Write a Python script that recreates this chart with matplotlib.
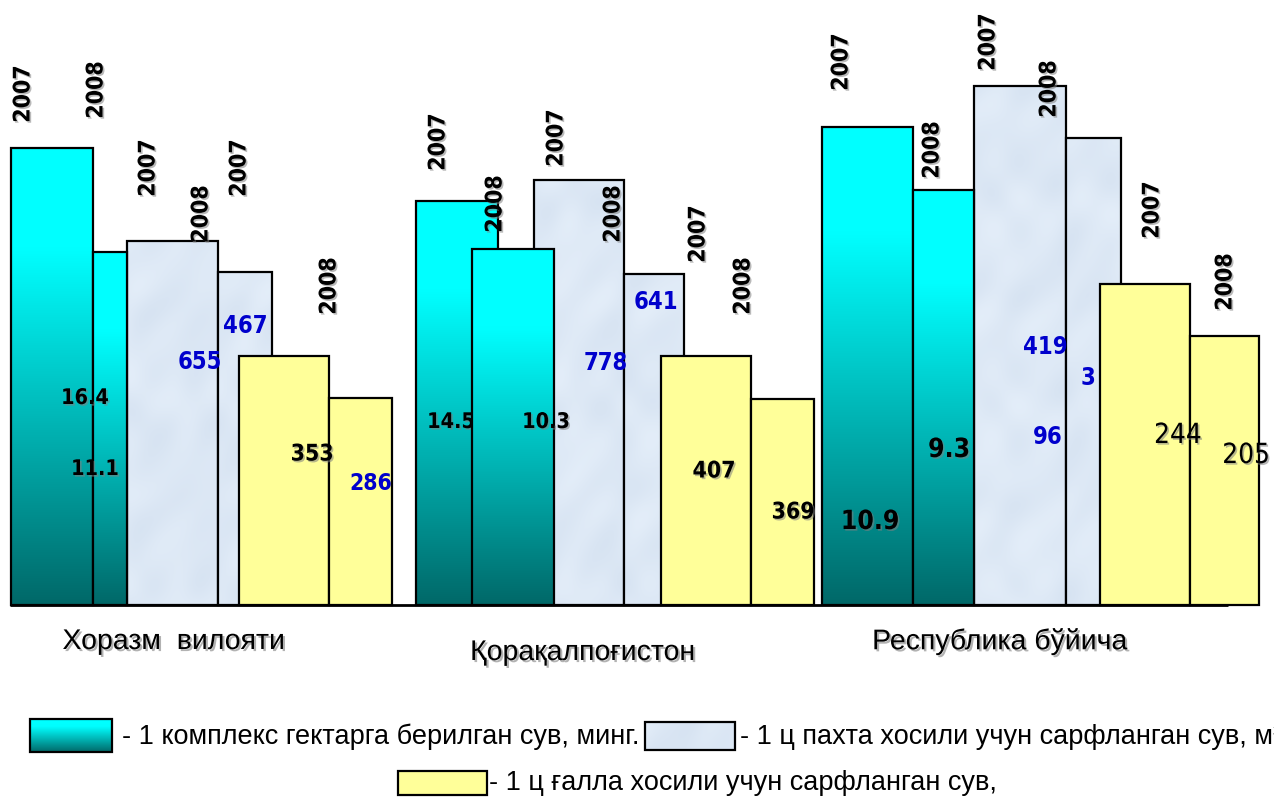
import matplotlib
matplotlib.use('Agg')
import matplotlib.pyplot as plt
import matplotlib.patheffects as pe
from matplotlib.patches import Rectangle
from matplotlib.colors import LinearSegmentedColormap
from matplotlib import font_manager as fm
import numpy as np

# ---------------- data ----------------
regions = ['Хоразм  вилояти', 'Қорақалпоғистон', 'Республика бўйича']
years = ['2007', '2008']

# bar heights as drawn in the picture (relative units, baseline = 0)
water_per_ha_height = [[457, 353], [404, 356], [478, 415]]
cotton_water_height = [[364, 333], [425, 331], [519, 467]]
grain_water_height = [[249, 207], [249, 206], [321, 269]]

# value labels shown on the bars
water_per_ha_labels = [['16.4', '11.1'], ['14.5', '10.3'], ['10.9', '9.3']]
cotton_water_labels = [['655', '467'], ['778', '641'], ['419', '3', '96']]
grain_water_labels = [['353', '286'], ['407', '369'], ['244', '205']]

legend_labels = ['- 1 комплекс гектарга берилган сув, минг.',
                 '- 1 ц пахта хосили учун сарфланган сув, м³',
                 '- 1 ц ғалла хосили учун сарфланган сув,']

# ---------------- layout (pixels, figure space) ----------------
W, H = 1274, 801
BASE = 605  # baseline row
# left/right edges: teal07, teal08, blue07, blue08, yel07, yel08
bar_edges = [
    [(11, 93), (93, 127), (127, 218), (218, 272), (239, 329), (329, 392)],
    [(416, 498), (472, 554), (534, 624), (624, 684), (661, 751), (751, 814)],
    [(822, 913), (913, 974), (974, 1066), (1066, 1121), (1100, 1190), (1190, 1259)],
]
bar_z = [4, 5, 2, 3, 6, 7]
year_pos = [
    [(23, 94), (96, 90), (148, 168), (201, 214), (239, 168), (329, 286)],
    [(438, 142), (495, 204), (556, 138), (613, 214), (698, 234), (743, 286)],
    [(841, 62), (932, 150), (988, 42), (1049, 89), (1152, 210), (1225, 282)],
]
teal_lbl_pos = [[(85, 398), (95, 469)], [(451, 422), (546, 422)], [(870, 522), (949, 450)]]
teal_lbl_size = [15.5, 15.5, 19]
teal_lbl_z = [[9, 9], [4.5, 9], [9, 9]]
cotton_lbl_pos = [[(200, 362), (245, 326)], [(606, 363), (656, 302)],
                  [(1045, 347), (1088, 378), (1048, 437)]]
grain_lbl_pos = [[(312, 454), (371, 483)], [(714, 471), (793, 512)], [(1178, 435), (1246, 455)]]
grain_lbl_color = [['black', '#0000CC'], ['black', 'black'], ['black', 'black']]
grain_lbl_weight = ['bold', 'bold', 'normal']
grain_lbl_size = [16.5, 16.5, 20]
region_pos = [(174, 642), (583, 653), (1000, 642)]

TEAL_TOP = '#00FFFF'
TEAL_BOT = '#006868'
YELLOW = '#FFFF99'
LBLUE = '#0000CC'

# a condensed Verdana-like face if present (Tahoma-like width), else DejaVu Sans
_cond = [f for f in fm.fontManager.ttflist
         if f.name == 'DejaVu Sans' and 'ondensed' in str(f.stretch) + f.fname]
NUM_STRETCH = 'condensed' if _cond else 'normal'
NUM_SCALE = 1.0 if _cond else 0.9

teal_cmap = LinearSegmentedColormap.from_list(
    'teal', [(0.0, TEAL_BOT), (0.78, TEAL_TOP), (1.0, TEAL_TOP)])

fig = plt.figure(figsize=(W / 100, H / 100), dpi=100)
ax = fig.add_axes([0, 0, 1, 1])
ax.set_xlim(0, W)
ax.set_ylim(BASE - H, BASE)
ax.axis('off')

shadow = [pe.SimplePatchShadow(offset=(1.2, -1.2), shadow_rgbFace='#808080', alpha=0.55), pe.Normal()]


def Y(ypix):
    return BASE - ypix


def gradient_box(x0, x1, y0, y1, z):
    grad = np.linspace(0, 1, 256).reshape(-1, 1)
    ax.imshow(grad, cmap=teal_cmap, origin='lower', extent=[x0, x1, y0, y1],
              aspect='auto', zorder=z, interpolation='bicubic')
    ax.add_patch(Rectangle((x0, y0), x1 - x0, y1 - y0, facecolor='none',
                           edgecolor='black', linewidth=1.6, zorder=z + 0.1))


def textured_box(x0, x1, y0, y1, z):
    # soft light-blue marbled paper look (deterministic pattern)
    nx, ny = max(int(x1 - x0), 2), max(int(y1 - y0), 2)
    xx, yy = np.meshgrid(np.arange(nx) + x0, np.arange(ny) + y0)
    t = (np.sin(xx * 0.045 + np.sin(yy * 0.031) * 2.5) * np.cos(yy * 0.027 + np.sin(xx * 0.05) * 1.7)
         + 0.35 * np.sin(xx * 0.13 - yy * 0.09 + np.cos(xx * 0.02)))
    t = (t - t.min()) / (t.max() - t.min() + 1e-9)
    c0 = np.array([0.845, 0.893, 0.950])
    c1 = np.array([0.890, 0.930, 0.975])
    img = c0[None, None, :] * (1 - t[..., None]) + c1[None, None, :] * t[..., None]
    ax.imshow(img, origin='lower', extent=[x0, x1, y0, y1], aspect='auto', zorder=z,
              interpolation='bilinear')
    ax.add_patch(Rectangle((x0, y0), x1 - x0, y1 - y0, facecolor='none',
                           edgecolor='black', linewidth=1.6, zorder=z + 0.1))


def plain_box(x0, x1, y0, y1, color, z):
    ax.add_patch(Rectangle((x0, y0), x1 - x0, y1 - y0, facecolor=color,
                           edgecolor='black', linewidth=1.6, zorder=z))


# baseline
ax.plot([10, 1228], [0, 0], color='black', linewidth=2, zorder=1, solid_capstyle='butt')

num_font = dict(family='DejaVu Sans', stretch=NUM_STRETCH)

for g in range(3):
    heights = [water_per_ha_height[g][0], water_per_ha_height[g][1],
               cotton_water_height[g][0], cotton_water_height[g][1],
               grain_water_height[g][0], grain_water_height[g][1]]
    for s in range(6):
        x0, x1 = bar_edges[g][s]
        h = heights[s]
        z = bar_z[s]
        if s < 2:
            gradient_box(x0, x1, 0, h, z)
        elif s < 4:
            textured_box(x0, x1, 0, h, z)
        else:
            plain_box(x0, x1, 0, h, YELLOW, z)
        yx, yy = year_pos[g][s]
        ax.text(yx, Y(yy), years[s % 2], rotation=90, ha='center', va='center',
                fontsize=16.5 * NUM_SCALE, fontweight='bold', color='black',
                zorder=10, path_effects=shadow, **num_font)

    # value labels
    for k, lab in enumerate(water_per_ha_labels[g]):
        lx, ly = teal_lbl_pos[g][k]
        ax.text(lx, Y(ly), lab, ha='center', va='center', fontsize=teal_lbl_size[g] * NUM_SCALE,
                fontweight='bold', color='black',
                zorder=teal_lbl_z[g][k], path_effects=shadow, **num_font)
    for k, lab in enumerate(cotton_water_labels[g]):
        lx, ly = cotton_lbl_pos[g][k]
        ax.text(lx, Y(ly), lab, ha='center', va='center', fontsize=17 * NUM_SCALE,
                fontweight='bold', color=LBLUE, zorder=11, **num_font)
    for k, lab in enumerate(grain_water_labels[g]):
        lx, ly = grain_lbl_pos[g][k]
        col = grain_lbl_color[g][k]
        ax.text(lx, Y(ly), lab, ha='center', va='center',
                fontsize=grain_lbl_size[g] * NUM_SCALE,
                fontweight=grain_lbl_weight[g], color=col,
                zorder=11, path_effects=shadow if col == 'black' else None, **num_font)

    rx, ry = region_pos[g]
    ax.text(rx, Y(ry), regions[g], ha='center', va='center', fontsize=20.5,
            family=['Liberation Sans', 'DejaVu Sans'], color='black', zorder=11,
            path_effects=[pe.SimplePatchShadow(offset=(1.5, -1.5), shadow_rgbFace='#808080',
                                               alpha=0.6), pe.Normal()])

# legend
gradient_box(30, 112, Y(752), Y(719), 12)
textured_box(645, 735, Y(750), Y(722), 12)
plain_box(398, 487, Y(795), Y(771), YELLOW, 12)
legend_font = dict(fontsize=19.5, family=['Liberation Sans', 'DejaVu Sans'], color='black',
                   ha='left', va='center', zorder=13)
ax.text(122, Y(737), legend_labels[0], **legend_font)
# the reference runs this label off the right edge of the picture
ax.text(740, Y(737), legend_labels[1], clip_on=True, **legend_font)
ax.text(489, Y(783), legend_labels[2], **legend_font)

fig.savefig('out.png', dpi=100)
